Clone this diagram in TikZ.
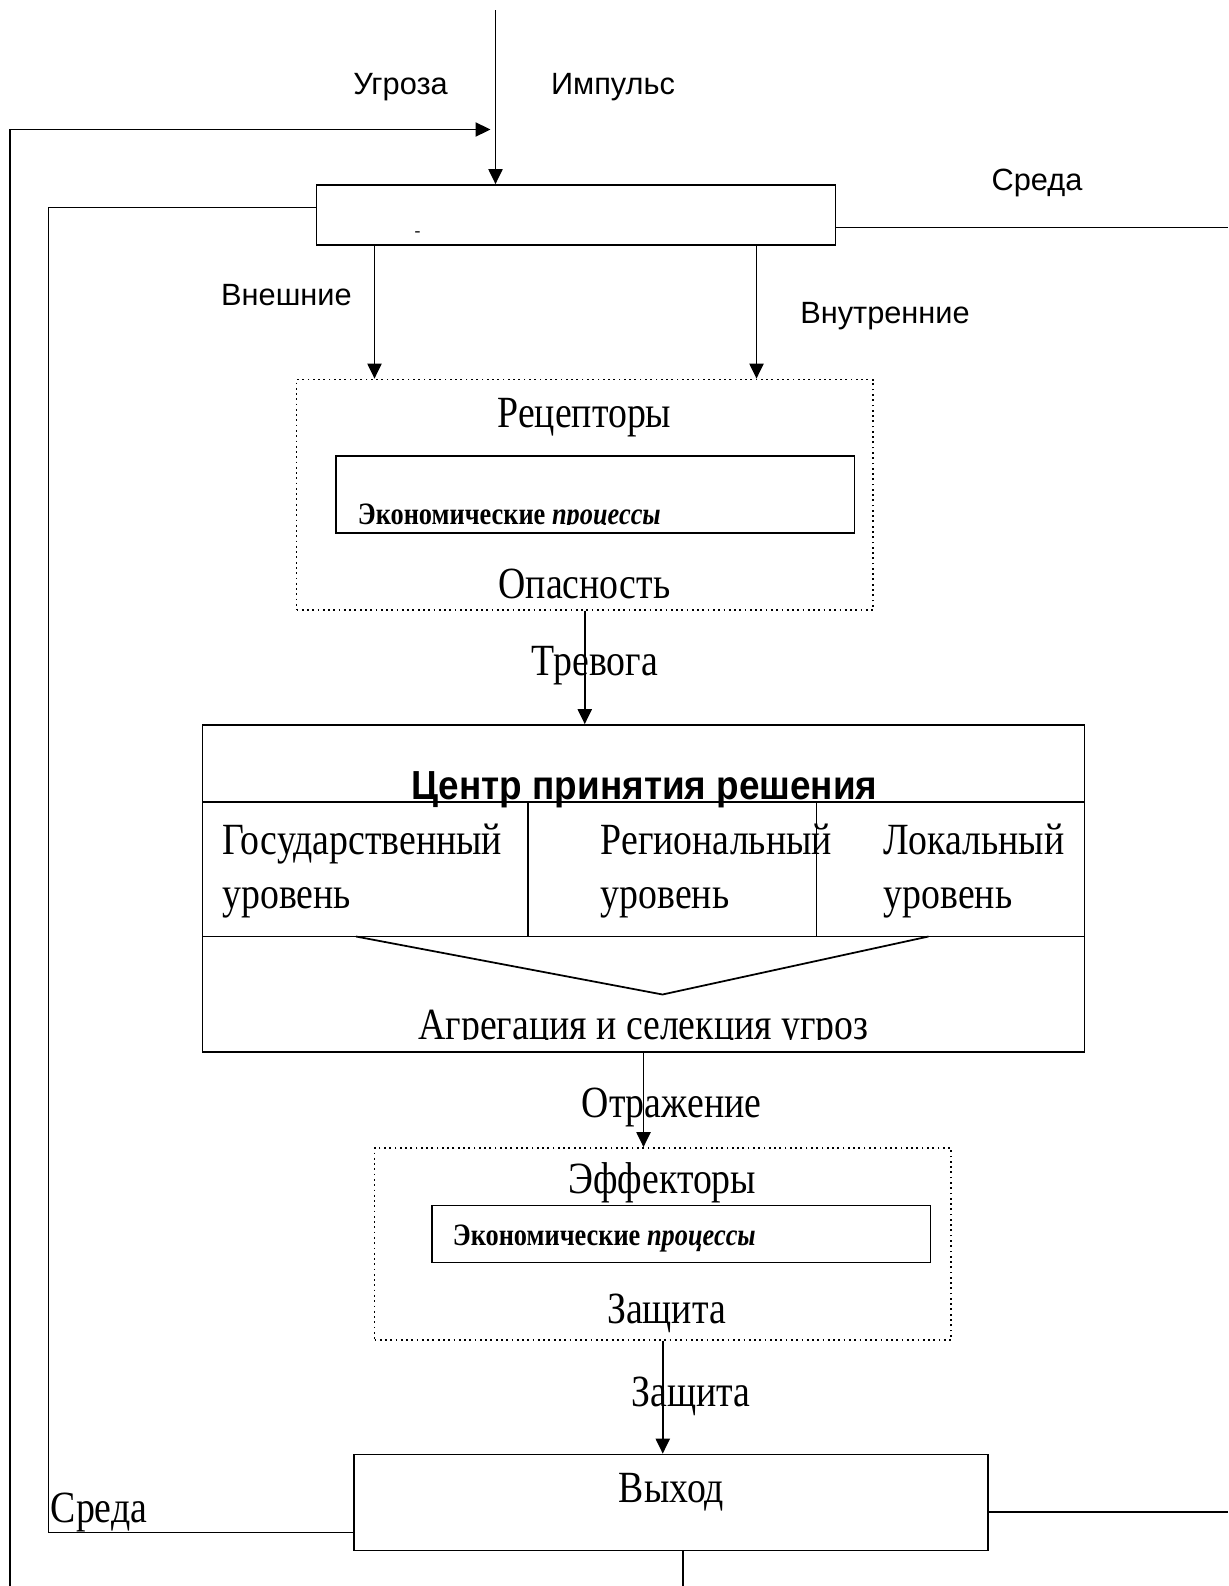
\documentclass[tikz,border=0pt]{standalone}
\usepackage{fontspec}
\usepackage{graphicx}
\setmainfont{Liberation Serif}
\setsansfont{Liberation Sans}
\usetikzlibrary{arrows.meta}
\newcommand{\tallt}[1]{\scalebox{1}[1.18]{#1}}
\tikzset{
  box/.style={draw, inner sep=0pt},
  dotbox/.style={draw, dotted, inner sep=0pt},
  arr/.style={-{Triangle[length=8.5pt,width=8pt]}},
  sanslbl/.style={font=\sffamily\fontsize{17.5}{20}\selectfont, anchor=base, inner sep=0pt},
  serlbl/.style={font=\fontsize{21.5}{24}\selectfont, anchor=base, inner sep=0pt},
  ecolbl/.style={font=\bfseries\fontsize{15}{17}\selectfont, anchor=base west, inner sep=0pt},
}
\begin{document}
\begin{tikzpicture}[line width=1pt]
        \useasboundingbox (0,0) rectangle (24.56,-31.72);

        %blocchi
        \node[box, minimum width=10.38cm, minimum height=1.20cm] (topbox) at (11.52,-4.30) {};
        \node[dotbox, minimum width=11.53cm, minimum height=4.61cm] (rec) at (11.695,-9.895) {};
        \node[box, minimum width=10.37cm, minimum height=1.54cm] (recin) at (11.905,-9.89) {};
        \node[box, minimum width=17.64cm, minimum height=6.54cm] (centre) at (12.87,-17.77) {};
        \node[dotbox, minimum width=11.53cm, minimum height=3.84cm] (eff) at (13.255,-24.88) {};
        \node[box, minimum width=9.97cm, minimum height=1.14cm] (effin) at (13.625,-24.68) {};
        \node[box, minimum width=12.68cm, minimum height=1.92cm] (out) at (13.42,-30.05) {};
        \node[font=\fontsize{10}{12}\selectfont, inner sep=0pt] (dash) at (8.35,-4.69) {-};

        %punti liberi
        \coordinate (inp) at (9.91,-0.20);
        \coordinate (fbend) at (9.81,-2.59);
        \coordinate (fbstart) at (0.20,-31.72);
        \coordinate (envl) at (0.97,-30.65);
        \coordinate (envr) at (24.56,0);
        \coordinate (downout) at (13.66,-31.72);
        \coordinate (reccut) at (17.09,-10.48);
        \coordinate (aggcut) at (21.69,-20.78);

        %frecce e linee
        \draw[arr] (inp) -- (inp |- topbox.north);
        \draw[arr] (fbstart) |- (fbend);
        \draw ([yshift=0.15cm]topbox.west) -| (envl) -- (envl -| out.west);
        \draw ([yshift=-0.25cm]topbox.east) -- ([yshift=-0.25cm]topbox.east -| envr);
        \draw ([yshift=-0.19cm]out.east) -- ([yshift=-0.19cm]out.east -| envr);
        \draw (downout |- out.south) -- (downout);
        \draw[arr] ([xshift=-4.03cm]topbox.south) -- ([xshift=-4.03cm]topbox.south |- rec.north);
        \draw[arr] ([xshift=3.61cm]topbox.south) -- ([xshift=3.61cm]topbox.south |- rec.north);
        \draw[arr] (rec.south) -- (rec.south |- centre.north);
        \draw[arr] (centre.south) -- (centre.south |- eff.north);
        \draw[arr] (eff.south) -- (eff.south |- out.north);

        %centro
        \draw (4.05,-16.04) -- (21.69,-16.04);
        \draw (4.05,-18.73) -- (21.69,-18.73);
        \draw (10.56,-16.04) -- (10.56,-18.73);
        \draw (16.33,-16.04) -- (16.33,-18.73);
        \draw (7.12,-18.73) -- (13.25,-19.89) -- (18.57,-18.73);

        %label
        \node[sanslbl] (threat) at (8.01,-1.88) {Угроза};
        \node[sanslbl] (impulse) at (12.26,-1.88) {Импульс};
        \node[sanslbl] (envtop) at (20.74,-3.80) {Среда};
        \node[sanslbl] (ext) at (5.73,-6.11) {Внешние};
        \node[sanslbl] (int) at (17.70,-6.47) {Внутренние};
        \node[serlbl] (rectitle) at (11.69,-8.54) {\tallt{Рецепторы}};
        \begin{scope}
            \clip (recin.north west) rectangle (reccut);
            \node[ecolbl] (recproc) at (7.14,-10.48) {\tallt{Экономические \textit{процессы}}};
        \end{scope}
        \node[serlbl] (danger) at (11.69,-11.96) {\tallt{Опасность}};
        \node[serlbl] (alarm) at (11.90,-13.51) {\tallt{Тревога}};
        \node[font=\sffamily\bfseries\fontsize{21}{24}\selectfont, anchor=base, inner sep=0pt] (ctitle) at (12.89,-15.98) {\scalebox{1}[1.1]{Центр принятия решения}};
        \node[serlbl, anchor=base west] (lvlst) at (4.43,-17.09) {\tallt{Государственный}};
        \node[serlbl, anchor=base west] (lvlstb) at (4.43,-18.17) {\tallt{уровень}};
        \node[serlbl, anchor=base west] (lvlreg) at (12.00,-17.09) {\tallt{Региональный}};
        \node[serlbl, anchor=base west] (lvlregb) at (12.00,-18.17) {\tallt{уровень}};
        \node[serlbl, anchor=base west] (lvlloc) at (17.66,-17.09) {\tallt{Локальный}};
        \node[serlbl, anchor=base west] (lvllocb) at (17.66,-18.17) {\tallt{уровень}};
        \begin{scope}
            \clip (centre.north west) rectangle (aggcut);
            \node[serlbl] (agg) at (12.87,-20.78) {\tallt{Агрегация и селекция угроз}};
        \end{scope}
        \node[serlbl] (reflect) at (13.43,-22.35) {\tallt{Отражение}};
        \node[serlbl] (efftitle) at (13.25,-23.87) {\tallt{Эффекторы}};
        \node[ecolbl] (effproc) at (9.04,-24.90) {\tallt{Экономические \textit{процессы}}};
        \node[serlbl] (prot) at (13.33,-26.46) {\tallt{Защита}};
        \node[serlbl] (protarr) at (13.82,-28.12) {\tallt{Защита}};
        \node[serlbl] (exit) at (13.43,-30.04) {\tallt{Выход}};
        \node[serlbl, anchor=base west] (envbot) at (1.00,-30.45) {\tallt{Среда}};
\end{tikzpicture}
\end{document}
